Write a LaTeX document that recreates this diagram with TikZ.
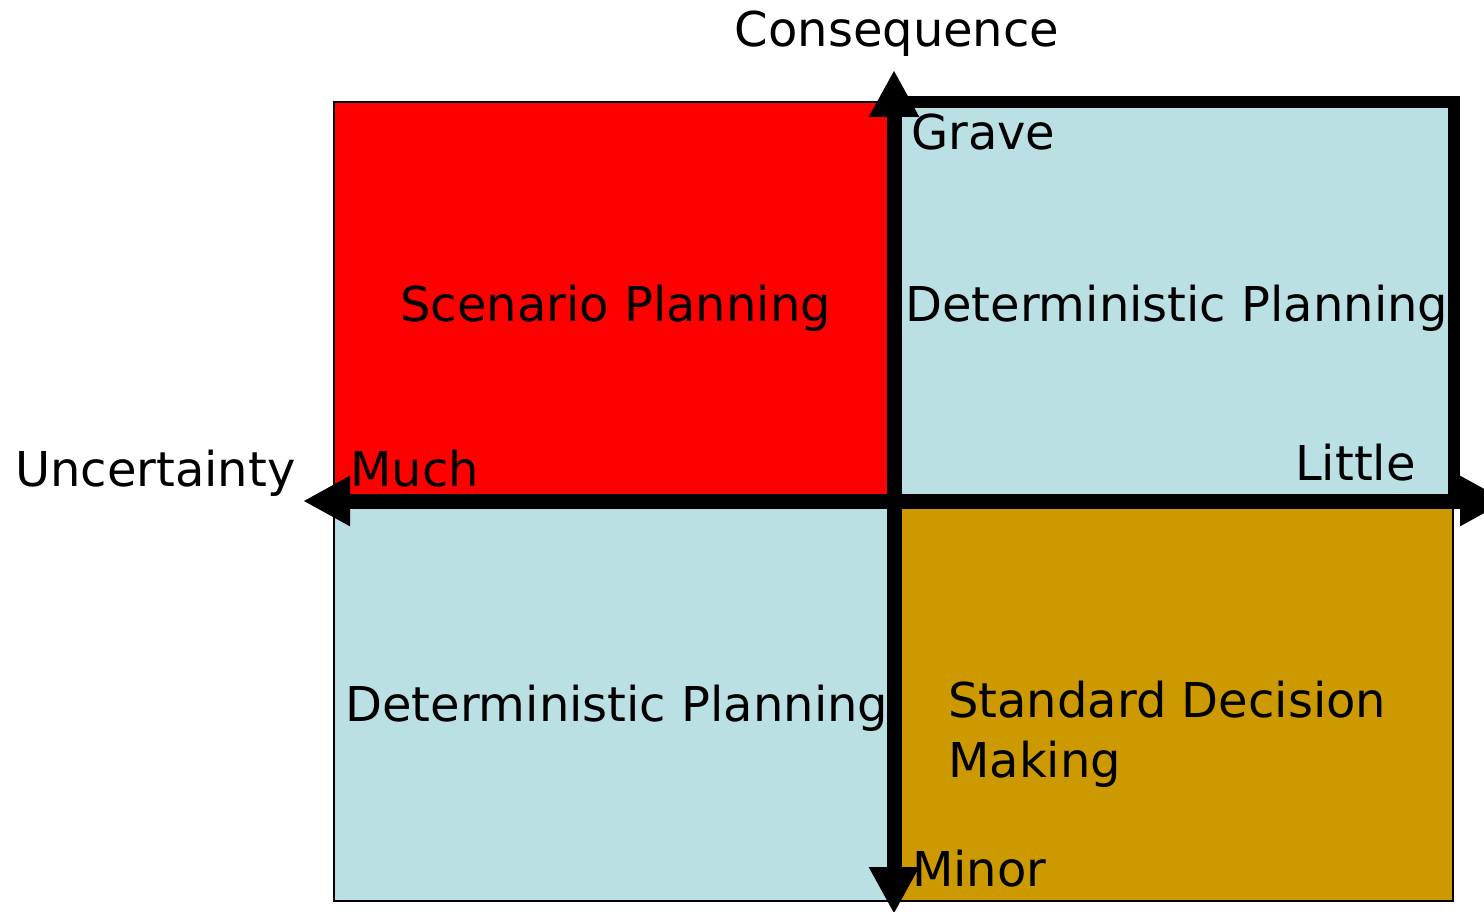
\documentclass[tikz,border=0pt]{standalone}
\usepackage{fontspec}
\setmainfont{DejaVu Sans}
\usetikzlibrary{arrows.meta,positioning}
\definecolor{paleblue}{RGB}{187,224,227}
\definecolor{gold}{RGB}{204,153,0}
\tikzstyle{quad}=[rectangle,draw=black,line width=2pt,inner sep=0pt,outer sep=0pt,anchor=north west]
\tikzstyle{lbl}=[inner sep=0pt,anchor=base west,font=\fontsize{48}{60}\selectfont]
\tikzstyle{axis}=[line width=15pt,{Triangle[length=47pt,width=47pt]}-{Triangle[length=47pt,width=47pt]}]

\begin{document}
\begin{tikzpicture}[x=1pt,y=-1pt]
\useasboundingbox (0,0) rectangle (1484,912);

\node (scen) [quad,fill=red,minimum width=560pt,minimum height=399pt] at (334,102) {} ;
\node (detlow) [quad,fill=paleblue,minimum width=560pt,minimum height=400pt] at (334,501) {} ;
\node (std) [quad,fill=gold,minimum width=559pt,minimum height=400pt] at (894,501) {} ;
\node (detup) [quad,fill=paleblue,line width=12pt,minimum width=560pt,minimum height=399pt] at (894,102) {} ;

\coordinate (top) at (894,70) ;
\coordinate (bottom) at (894,914) ;
\coordinate (left) at (303,501) ;
\coordinate (right) at (1507,501) ;

\draw [axis] (bottom) -- (top) ;
\draw [axis] (left) -- (right) ;

\node (cons) [lbl,anchor=base] at (897,47) {Consequence} ;
\node (grave) [lbl] at (911,150) {Grave} ;
\node (minor) [lbl] at (912,886) {Minor} ;
\node (unc) [lbl] at (15,486) {Uncertainty} ;
\node (much) [lbl] at (350,486) {Much} ;
\node (little) [lbl,anchor=base east] at (1416,480) {Little} ;

\node (scentext) [lbl] at (400,321) {Scenario Planning} ;
\node (deteruptext) [lbl] at (905,321) {Deterministic Planning} ;
\node (deterlowtext) [lbl] at (345,721) {Deterministic Planning} ;
\node (stdtext) [lbl] at (948,717) {Standard Decision} ;
\node (stdtext2) [lbl] at (948,777) {Making} ;

\end{tikzpicture}
\end{document}
